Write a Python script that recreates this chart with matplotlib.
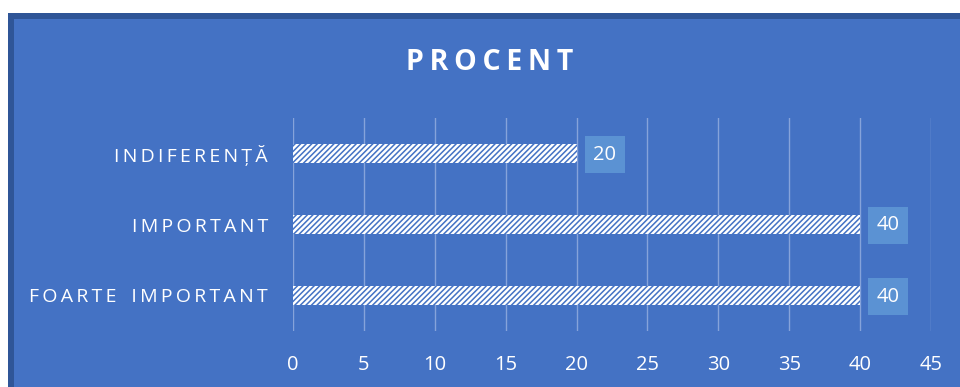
import matplotlib.pyplot as plt
from matplotlib.patches import Rectangle

categories = ['FOARTE IMPORTANT', 'IMPORTANT', 'INDIFERENȚĂ']
values = [40, 40, 20]
xticks = [0, 5, 10, 15, 20, 25, 30, 35, 40, 45]
title = 'PROCENT'

fill = '#4472C4'
border = '#2F5597'
box = '#5B92D3'
grid = '#86A3DA'

plt.rcParams['font.family'] = ['Open Sans', 'DejaVu Sans']
plt.rcParams['hatch.linewidth'] = 1.1


def spaced(s, gap=' ', word='   '):
    # fake letter spacing
    return word.join(gap.join(w) for w in s.split(' '))


fig = plt.figure(figsize=(9.6, 3.87), dpi=100, facecolor='white')
fig.patches.append(Rectangle((8 / 960, 0), 1, 1 - 13 / 387, transform=fig.transFigure,
                             facecolor=border, edgecolor='none', zorder=-2))
fig.patches.append(Rectangle((14 / 960, 0), 1, 1 - 19 / 387, transform=fig.transFigure,
                             facecolor=fill, edgecolor='none', zorder=-1))

ax = fig.add_axes([293 / 960, 1 - 331 / 387, (931 - 293) / 960, (331 - 118) / 387])
ax.set_zorder(2)
ax.set_facecolor('none')
for s in ax.spines.values():
    s.set_visible(False)

y = range(len(categories))
ax.barh(y, values, height=0.28, color='white', edgecolor=fill, hatch='//////',
        linewidth=0, zorder=3)

for i, v in enumerate(values):
    ax.annotate(str(v), (v, i), xytext=(28, -1), textcoords='offset pixels',
                ha='center', va='center', color='white', fontsize=14.5,
                bbox=dict(boxstyle='square,pad=0.42', facecolor=box, edgecolor='none'),
                zorder=4)

ax.set_xlim(0, 45)
ax.set_ylim(-0.5, 2.5)
ax.set_xticks(xticks)
ax.set_yticks(list(y))
ax.set_yticklabels([spaced(c, '\u2009', '\u2009 \u2009\u2009') for c in categories])
ax.grid(axis='x', color=grid, linewidth=1, zorder=1)
ax.tick_params(axis='x', length=0, pad=17, labelsize=14.5, labelcolor='white')
ax.tick_params(axis='y', length=0, pad=18, labelsize=14, labelcolor='white')

fig.text(490 / 960, 1 - 62 / 387, spaced(title, '\u2009'), ha='center', va='center',
         color='white', fontsize=20.5, fontweight='bold', zorder=3)

fig.savefig('out.png', dpi=100, facecolor='white')
